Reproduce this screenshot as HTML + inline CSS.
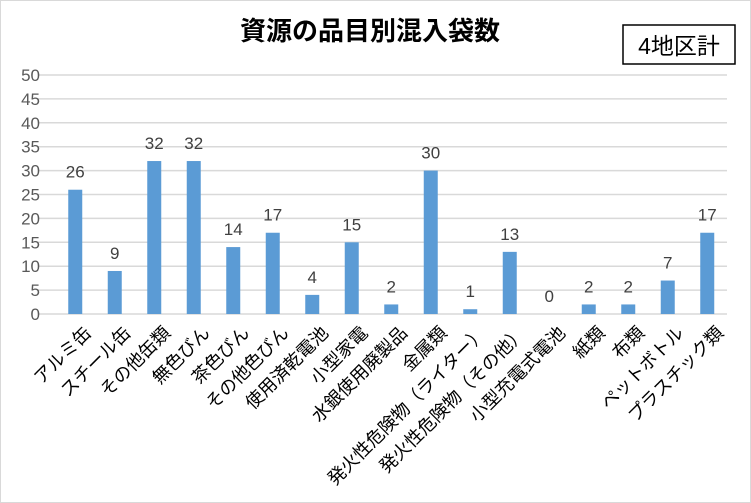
<!DOCTYPE html>
<html><head><meta charset="utf-8">
<style>
html,body{margin:0;padding:0;background:#fff;}
svg{display:block;font-family:"Liberation Sans","Noto Sans CJK JP",sans-serif;}
</style></head>
<body>
<svg id="chart" width="751" height="503" viewBox="0 0 751 503">
<rect x="0.5" y="0.5" width="750" height="502" fill="#fff" stroke="#d9d9d9"/>
<text x="370" y="40" text-anchor="middle" font-size="26" font-weight="bold" fill="#000">資源の品目別混入袋数</text>
<g>
<rect x="623" y="25" width="112" height="39" fill="#fff" stroke="#000" stroke-width="1.5"/>
<text x="679" y="54" text-anchor="middle" font-size="23" fill="#000">4地区計</text>
</g>
<g id="grid"></g><g id="bars"></g><g id="labels"></g>
</svg>
<script>
const categories=["アルミ缶","スチール缶","その他缶類","無色びん","茶色びん","その他色びん","使用済乾電池","小型家電","水銀使用廃製品","金属類","発火性危険物（ライター）","発火性危険物（その他）","小型充電式電池","紙類","布類","ペットボトル","プラスチック類"];
const values=[26,9,32,32,14,17,4,15,2,30,1,13,0,2,2,7,17];
const yTicks=[0,5,10,15,20,25,30,35,40,45,50];
const NS="http://www.w3.org/2000/svg";
const x0=55.5,x1=727,yTop=75,yBot=314,yMax=50;
const band=(x1-x0)/categories.length;
const xC=i=>x0+band*(i+0.5);
const yS=v=>yBot-(v/yMax)*(yBot-yTop);
function mk(t,a,p){const e=document.createElementNS(NS,t);for(const k in a)e.setAttribute(k,a[k]);p.appendChild(e);return e;}
const grid=document.getElementById('grid'),bars=document.getElementById('bars'),labels=document.getElementById('labels');
yTicks.forEach(v=>{
 const l=mk('line',{x1:38,x2:727,y1:yS(v),y2:yS(v),stroke:'#d9d9d9','stroke-width':1.5},grid);
 
 
 const t=mk('text',{x:40,y:yS(v)+6,'text-anchor':'end','font-size':17,fill:'#595959'},grid);
 t.textContent=v;
 
 
});
values.forEach((v,i)=>{
 const bw=14;
 const r=mk('rect',{x:xC(i)-bw/2,y:yS(v),width:bw,height:yBot-yS(v),fill:'#5b9bd5'},bars);
 
 
 const t=mk('text',{x:xC(i),y:yS(v)-12,'text-anchor':'middle','font-size':17,fill:'#404040'},bars);
 t.textContent=v;
 
 
});
categories.forEach((c,i)=>{
 const ex=xC(i)+8,ey=325;
 const t=mk('text',{x:ex,y:ey,'text-anchor':'end','font-size':18,fill:'#000',transform:`rotate(-45 ${ex} ${ey})`,'dominant-baseline':'hanging'},labels);
 t.textContent=c;
 
 
});
</script>
</body></html>
